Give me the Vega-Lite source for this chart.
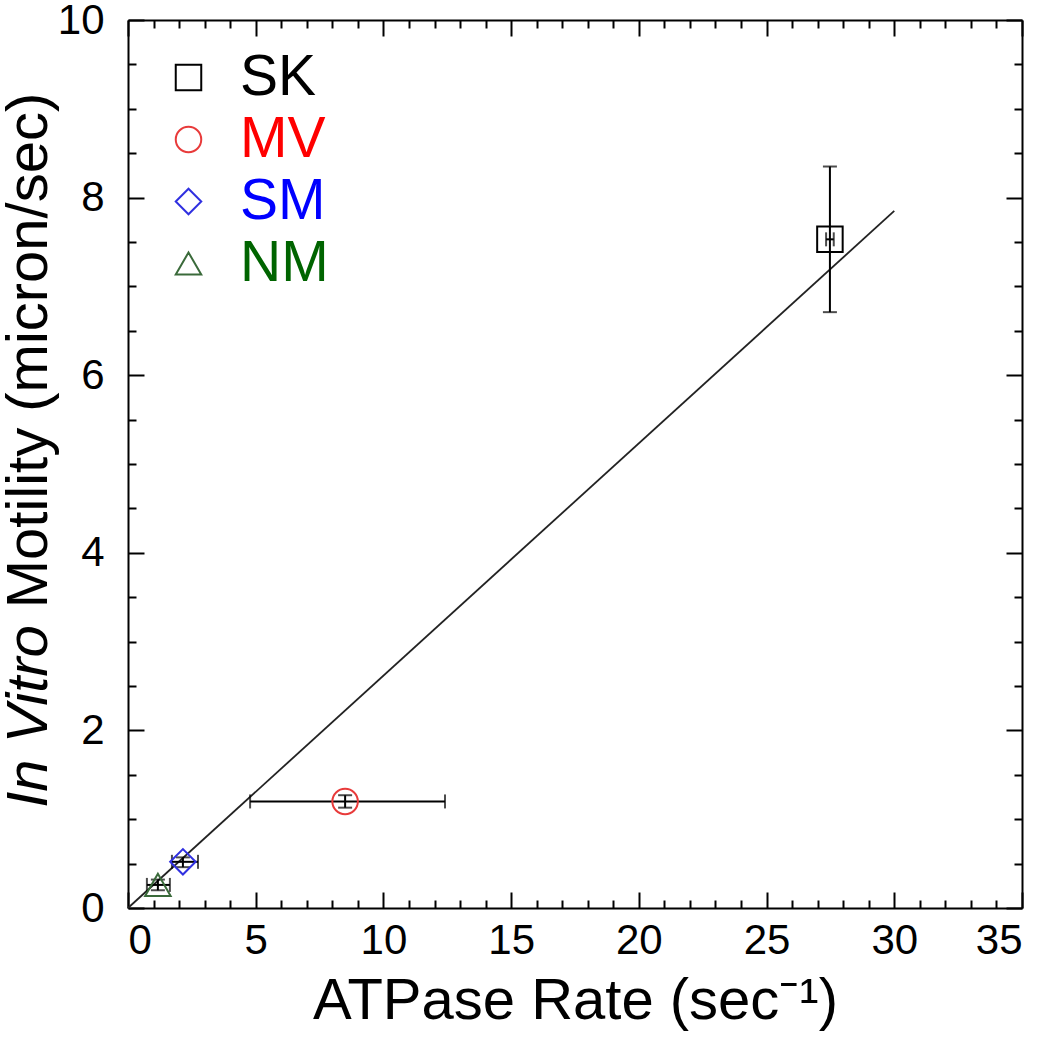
{
  "$schema": "https://vega.github.io/schema/vega-lite/v6.json",
  "width": 894,
  "height": 888,
  "autosize": "none",
  "padding": {"left": 128, "top": 20, "right": 26, "bottom": 142},
  "background": "white",
  "config": {
    "font": "Liberation Sans",
    "view": {"stroke": null},
    "axis": {
      "grid": false,
      "domainColor": "black",
      "domainWidth": 2,
      "tickColor": "black",
      "tickWidth": 2,
      "labelColor": "black",
      "titleColor": "black",
      "labelFont": "Liberation Sans",
      "titleFont": "Liberation Sans",
      "titleFontWeight": "normal",
      "labelFontSize": 42,
      "titleFontSize": 58
    }
  },
  "datasets": {
    "fit": [
      {"rate": 0, "motility": 0},
      {"rate": 30, "motility": 7.85}
    ],
    "myosin": [
      {"myosin": "SK", "rate": 27.48, "motility": 7.53, "rate_lo": 27.33, "rate_hi": 27.63, "mot_lo": 6.71, "mot_hi": 8.35},
      {"myosin": "MV", "rate": 8.5, "motility": 1.2, "rate_lo": 4.78, "rate_hi": 12.41, "mot_lo": 1.13, "mot_hi": 1.27},
      {"myosin": "SM", "rate": 2.15, "motility": 0.52, "rate_lo": 1.72, "rate_hi": 2.74, "mot_lo": 0.46, "mot_hi": 0.57},
      {"myosin": "NM", "rate": 1.17, "motility": 0.26, "rate_lo": 0.74, "rate_hi": 1.64, "mot_lo": 0.2, "mot_hi": 0.32}
    ]
  },
  "layer": [
    {
      "data": {"name": "fit"},
      "mark": {"type": "line", "color": "#222222", "strokeWidth": 1.8},
      "encoding": {
        "x": {
          "field": "rate", "type": "quantitative",
          "scale": {"domain": [0, 35], "nice": false, "zero": false},
          "axis": {
            "orient": "bottom",
            "values": [0, 5, 10, 15, 20, 25, 30, 35],
            "tickSize": -16,
            "labelPadding": 28,
            "title": "ATPase Rate (sec⁻¹)",
            "titleX": 447,
            "titleY": 110,
            "titleBaseline": "alphabetic",
            "titleAlign": "center"
          }
        },
        "y": {
          "field": "motility", "type": "quantitative",
          "scale": {"domain": [0, 10], "nice": false, "zero": false},
          "axis": {
            "orient": "left",
            "values": [0, 2, 4, 6, 8, 10],
            "tickSize": -16,
            "labelPadding": 40,
            "title": "Motility (micron/sec)",
            "titleX": -82,
            "titleY": 330,
            "titleAngle": -90,
            "titleBaseline": "alphabetic",
            "titleAlign": "center"
          }
        }
      }
    },
    {
      "data": {"name": "myosin"},
      "mark": {"type": "errorbar", "color": "black", "thickness": 2, "ticks": {"size": 14, "thickness": 2, "color": "black"}},
      "encoding": {
        "x": {
          "field": "rate_lo", "type": "quantitative",
          "axis": {
            "orient": "bottom",
            "values": [1, 2, 3, 4, 6, 7, 8, 9, 11, 12, 13, 14, 16, 17, 18, 19, 21, 22, 23, 24, 26, 27, 28, 29, 31, 32, 33, 34],
            "tickSize": -8,
            "labels": false,
            "domain": false,
            "title": null
          }
        },
        "x2": {"field": "rate_hi"},
        "y": {
          "field": "motility", "type": "quantitative",
          "axis": {
            "orient": "left",
            "values": [0.5, 1, 1.5, 2.5, 3, 3.5, 4.5, 5, 5.5, 6.5, 7, 7.5, 8.5, 9, 9.5],
            "tickSize": -8,
            "labels": false,
            "domain": false,
            "title": "In Vitro",
            "titleFontStyle": "italic",
            "titleX": -82,
            "titleY": 696,
            "titleAngle": -90,
            "titleBaseline": "alphabetic",
            "titleAlign": "center"
          }
        }
      }
    },
    {
      "data": {"name": "myosin"},
      "mark": {"type": "errorbar", "color": "black", "thickness": 2, "ticks": {"size": 14, "thickness": 2, "color": "black"}},
      "encoding": {
        "x": {
          "field": "rate", "type": "quantitative",
          "axis": {
            "orient": "top",
            "values": [1, 2, 3, 4, 6, 7, 8, 9, 11, 12, 13, 14, 16, 17, 18, 19, 21, 22, 23, 24, 26, 27, 28, 29, 31, 32, 33, 34],
            "tickSize": -8,
            "labels": false,
            "domain": false,
            "title": null
          }
        },
        "y": {
          "field": "mot_lo", "type": "quantitative",
          "axis": {
            "orient": "right",
            "values": [0.5, 1, 1.5, 2.5, 3, 3.5, 4.5, 5, 5.5, 6.5, 7, 7.5, 8.5, 9, 9.5],
            "tickSize": -8,
            "labels": false,
            "domain": false,
            "title": null
          }
        },
        "y2": {"field": "mot_hi"}
      }
    },
    {
      "data": {"name": "myosin"},
      "mark": {"type": "point", "filled": false, "strokeWidth": 2, "size": 650, "opacity": 1},
      "encoding": {
        "x": {
          "field": "rate", "type": "quantitative",
          "axis": {
            "orient": "top",
            "values": [0, 5, 10, 15, 20, 25, 30, 35],
            "tickSize": -16,
            "labels": false,
            "title": null
          }
        },
        "y": {
          "field": "motility", "type": "quantitative",
          "axis": {
            "orient": "right",
            "values": [0, 2, 4, 6, 8, 10],
            "tickSize": -16,
            "labels": false,
            "title": null
          }
        },
        "color": {
          "field": "myosin", "type": "nominal",
          "scale": {"domain": ["SK", "MV", "SM", "NM"], "range": ["#000000", "#e83a3a", "#3030e0", "#3a6a3a"]},
          "legend": {
            "orient": "none",
            "legendX": 32,
            "legendY": 29,
            "title": null,
            "padding": 0,
            "labelFontSize": 57,
            "labelFont": "Liberation Sans",
            "labelOffset": 23,
            "rowPadding": 4,
            "symbolSize": 650,
            "symbolStrokeWidth": 2,
            "labelColor": {"expr": "datum.label === 'SK' ? '#000000' : datum.label === 'MV' ? '#ff0000' : datum.label === 'SM' ? '#0000ff' : '#006400'"}
          }
        },
        "shape": {
          "field": "myosin", "type": "nominal",
          "scale": {"domain": ["SK", "MV", "SM", "NM"], "range": ["square", "circle", "diamond", "triangle-up"]}
        }
      }
    }
  ],
  "resolve": {"axis": {"x": "independent", "y": "independent"}}
}
